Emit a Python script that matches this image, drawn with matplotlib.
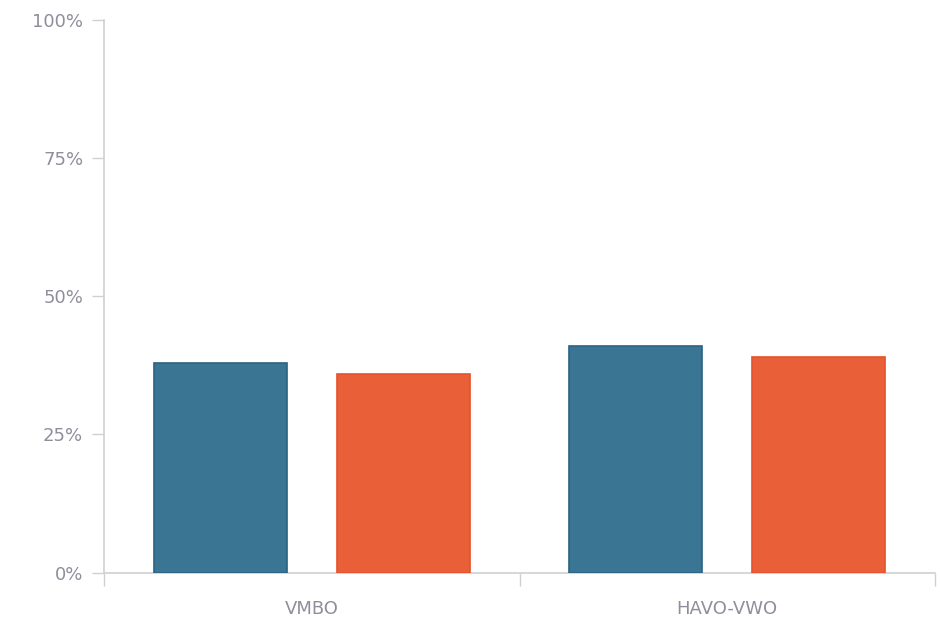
import matplotlib.pyplot as plt
import numpy as np

categories = ["VMBO", "HAVO-VWO"]
series_a = [38, 41]   # blue
series_b = [36, 39]   # orange
y_ticks = [0, 25, 50, 75, 100]
y_labels = ["0%", "25%", "50%", "75%", "100%"]

blue = "#3a7593"
blue_edge = "#2b6283"
orange = "#e85f38"
orange_edge = "#e6512b"
grid_col = "#d0d0d0"
text_col = "#8e8e9c"

plt.rcParams["font.family"] = ["DejaVu Sans"]

fig = plt.figure(figsize=(9.41, 6.22), dpi=100)
ax = fig.add_axes([104 / 941, 49.5 / 622, 831 / 941, 552.5 / 622])

x = np.arange(len(categories))
w = 0.32
off = 0.22
ax.bar(x - off, series_a, width=w, color=blue, edgecolor=blue_edge, linewidth=1.2, zorder=3)
ax.bar(x + off, series_b, width=w, color=orange, edgecolor=orange_edge, linewidth=1.2, zorder=3)

ax.set_xlim(-0.5, len(categories) - 0.5)
ax.set_ylim(0, 100)

ax.set_yticks(y_ticks)
ax.set_yticklabels(y_labels)
ax.tick_params(axis="y", direction="out", length=9, width=1, color=grid_col,
               labelcolor=text_col, labelsize=13, pad=6)

# category boundaries as ticks, names in between
ax.set_xticks(np.arange(len(categories) + 1) - 0.5)
ax.set_xticklabels([])
ax.set_xticks(x, minor=True)
ax.set_xticklabels(categories, minor=True)
ax.tick_params(axis="x", which="major", direction="out", length=9, width=1, color=grid_col)
ax.tick_params(axis="x", which="minor", length=0, labelcolor=text_col, labelsize=13, pad=20)

for s in ["top", "right"]:
    ax.spines[s].set_visible(False)
for s in ["left", "bottom"]:
    ax.spines[s].set_color(grid_col)
    ax.spines[s].set_linewidth(1.2)

fig.savefig("out.png", dpi=100)
